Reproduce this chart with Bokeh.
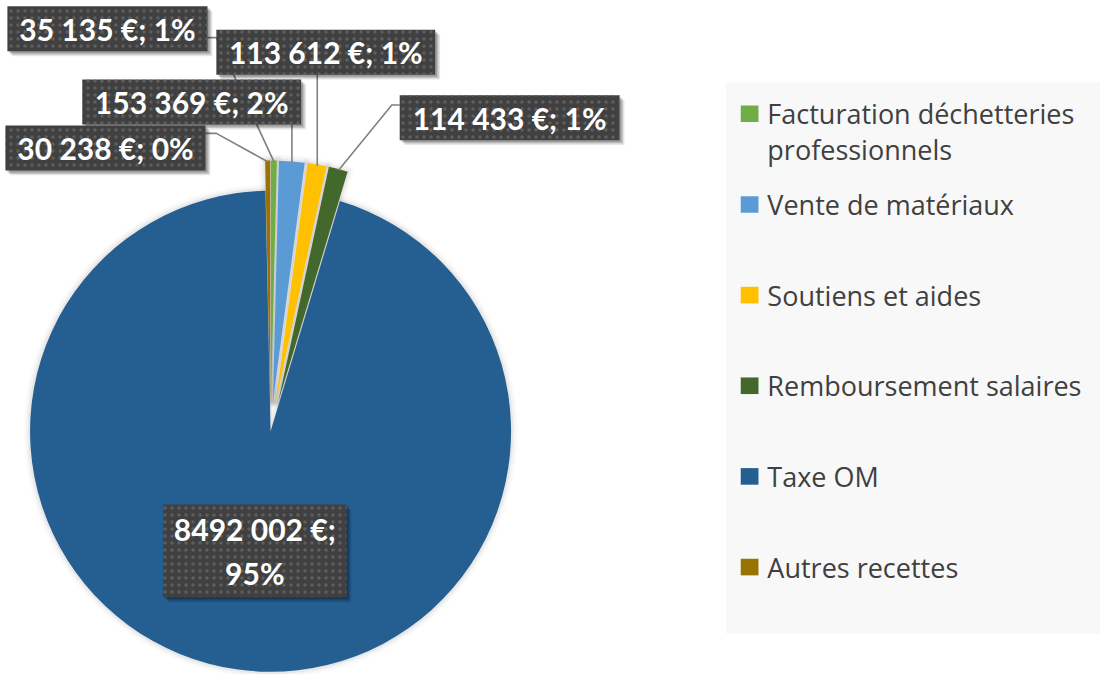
import math
from bokeh.plotting import figure
from bokeh.models import Range1d
from bokeh.core.properties import value
from bokeh.embed import file_html
from bokeh.resources import INLINE

# ---------------- data ----------------
categories = ["Facturation déchetteries professionnels", "Vente de matériaux",
              "Soutiens et aides", "Remboursement salaires", "Taxe OM", "Autres recettes"]
legend_labels = ["Facturation déchetteries\nprofessionnels", "Vente de matériaux",
                 "Soutiens et aides", "Remboursement salaires", "Taxe OM", "Autres recettes"]
values = [35135, 153369, 113612, 114433, 8492002, 30238]
data_labels = ["35 135 €; 1%", "153 369 €; 2%", "113 612 €; 1%", "114 433 €; 1%",
               "8492 002 €;\n95%", "30 238 €; 0%"]
colors = ["#70AD47", "#5B9BD5", "#FFC000", "#43682B", "#255E91", "#997300"]
exploded = [True, True, True, True, False, True]

# ---------------- layout (coordinates of the 1116x690 reference, y down) ----------------
W, H = 1100, 674
REF_W, REF_H = 1116, 690
def Y(py):
    return REF_H - py

CX, CY, R = 274, 441, 244
EXPLODE = 31

# label boxes: centre x, centre y, width, height
label_boxes = [(108.5, 29, 203, 46), (194, 104, 222, 46), (330, 53, 222, 46),
               (516.5, 120, 223, 46), (258, 563.5, 186, 95), (106.5, 151, 203, 46)]
# leader style: ("elbow", start_x, start_y, elbow_x) or ("down",) or None
leaders = [("elbow", 210, 38, 219), ("down",), ("down",), ("elbow", 405, 107, 397),
           None, ("elbow", 208, 136, 219)]

p = figure(width=W, height=H, x_range=Range1d(0, REF_W), y_range=Range1d(0, REF_H),
           output_backend="svg", toolbar_location=None, min_border=0,
           background_fill_color="white", border_fill_color="white")
p.axis.visible = False
p.grid.visible = False
p.outline_line_color = None

total = float(sum(values))
cum = 0.0
slices = []
for v, col, ex in zip(values, colors, exploded):
    f0 = cum / total
    cum += v
    f1 = cum / total
    phi_mid = 2 * math.pi * (f0 + f1) / 2  # clockwise from 12 o'clock
    d = EXPLODE if ex else 0
    vx = CX + d * math.sin(phi_mid)
    vy = Y(CY) + d * math.cos(phi_mid)
    a_start = math.pi / 2 - 2 * math.pi * f1
    a_end = math.pi / 2 - 2 * math.pi * f0
    slices.append(dict(vx=vx, vy=vy, a0=a_start, a1=a_end, col=col, phi=phi_mid))

# soft shadow around slices
for s in slices:
    for lw, al in [(12, 0.04), (8, 0.06), (4, 0.10)]:
        p.wedge(x=s["vx"], y=s["vy"], radius=R, start_angle=s["a0"], end_angle=s["a1"],
                fill_color=None, line_color="#808080", line_width=lw, line_alpha=al,
                line_join="round")
for s in slices:
    p.wedge(x=s["vx"], y=s["vy"], radius=R, start_angle=s["a0"], end_angle=s["a1"],
            fill_color=s["col"], line_color=None)

# leader lines
for s, lead, box in zip(slices, leaders, label_boxes):
    if lead is None:
        continue
    mx = s["vx"] + (R + 1) * math.sin(s["phi"])
    my = s["vy"] + (R + 1) * math.cos(s["phi"])
    if lead[0] == "elbow":
        xs = [lead[1], lead[3], mx]
        ys = [Y(lead[2]), Y(lead[2]), my]
    else:
        bottom = box[1] + box[3] / 2
        xs = [mx, mx]
        ys = [Y(bottom), my]
    p.line(xs, ys, line_color="#808080", line_width=1.6)

# label boxes with shadow and dotted texture
for (bx, by, bw, bh), txt in zip(label_boxes, data_labels):
    for off, al in [(5, 0.10), (3.5, 0.15), (2, 0.2)]:
        p.rect(x=bx + off, y=Y(by + off), width=bw, height=bh,
               fill_color="#000000", fill_alpha=al, line_color=None)
    p.rect(x=bx, y=Y(by), width=bw, height=bh, fill_color="#404040", line_color=None,
           hatch_pattern="dot", hatch_color="#5e5e5e", hatch_scale=7, hatch_weight=1.5)
    p.text(x=[bx], y=[Y(by)], text=[txt], text_color="white",
           text_font=value("Lato"), text_font_style="bold", text_font_size="30px",
           text_align="center", text_baseline="middle", text_line_height=1.2)

# legend
LEG_L, LEG_R, LEG_T, LEG_B = 736, 1116, 84, 648
p.quad(left=LEG_L, right=LEG_R, top=Y(LEG_T), bottom=Y(LEG_B),
       fill_color="#f8f8f8", line_color=None)
ITEM0, STEP = 116, 92.8
for i, (lab, col) in enumerate(zip(legend_labels, colors)):
    cy = ITEM0 + i * STEP
    p.rect(x=760, y=Y(cy), width=18, height=17, fill_color=col, line_color=None)
    for j, line in enumerate(lab.split("\n")):
        p.text(x=[778], y=[Y(cy + j * 37)], text=[line], text_color="#404040",
               text_font=value("Open Sans"), text_font_size="27px",
               text_align="left", text_baseline="middle")

open("out.html", "w").write(file_html(p, INLINE))
